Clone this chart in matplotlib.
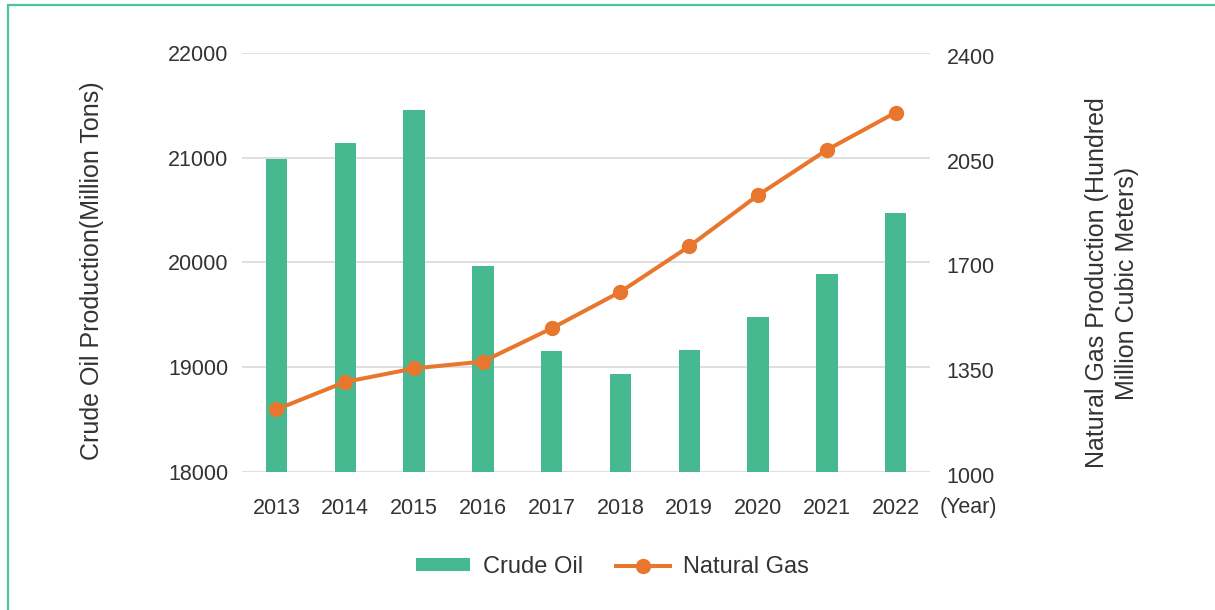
import matplotlib
matplotlib.use("Agg")
import matplotlib.pyplot as plt
import numpy as np
from matplotlib.patches import Rectangle
from matplotlib.transforms import ScaledTranslation

plt.rcParams["font.family"] = ["Liberation Sans", "DejaVu Sans"]

years = ["2013", "2014", "2015", "2016", "2017",
         "2018", "2019", "2020", "2021", "2022"]
crude_oil = [20992, 21143, 21456, 19969, 19151,
             18932, 19161, 19477, 19888, 20472]
natural_gas = [1209, 1301, 1346, 1369, 1480,
               1602, 1754, 1925, 2076, 2201]

left_ticks = [18000, 19000, 20000, 21000, 22000]
right_ticks = [1000, 1350, 1700, 2050, 2400]

BAR = "#47b990"
LINE = "#e8762d"
TEXT = "#333333"
GRID = "#dcdcdc"

fig = plt.figure(figsize=(12.15, 6.1), dpi=100)
ax = fig.add_axes([0.1992, 0.2262, 0.5663, 0.687])
ax2 = ax.twinx()

x = np.arange(len(years))

ax.bar(x, crude_oil, 0.31, color=BAR, zorder=2, label="Crude Oil")
ax.set_ylim(18000, 22000)
ax.set_yticks(left_ticks)
ax.set_xlim(-0.5, len(years) - 0.5)
ax.set_xticks(x)
ax.set_xticklabels(years)
ax.grid(axis="y", color=GRID, linewidth=1.3, zorder=0)
ax.set_axisbelow(True)

ax2.plot(x, natural_gas, color=LINE, linewidth=2.9, marker="o",
         markersize=10, zorder=3, label="Natural Gas")
ax2.set_ylim(1000, 2400)
ax2.set_yticks(right_ticks)

for a in (ax, ax2):
    for side in a.spines.values():
        side.set_visible(False)

ax.tick_params(axis="y", length=0, pad=10, labelsize=15.5, labelcolor=TEXT)
ax.tick_params(axis="x", length=0, pad=19, labelsize=15.5, labelcolor=TEXT)
ax2.tick_params(axis="y", length=0, pad=12, labelsize=15.5, labelcolor=TEXT)

# right-hand tick labels sit a little below their gridlines
shift = ScaledTranslation(0, -3 / 100, fig.dpi_scale_trans)
for lab in ax2.get_yticklabels():
    lab.set_transform(lab.get_transform() + shift)

fig.text(968 / 1215, 1 - 508 / 610, "(Year)", ha="center", va="center",
         fontsize=15.5, color=TEXT)

fig.text(92 / 1215, 1 - 271 / 610, "Crude Oil Production(Million Tons)",
         rotation=90, ha="center", va="center", fontsize=18, color=TEXT)
fig.text(1112 / 1215, 1 - 283 / 610,
         "Natural Gas Production (Hundred\nMillion Cubic Meters)",
         rotation=90, ha="center", va="center", fontsize=18, color=TEXT,
         multialignment="center", linespacing=1.3)

h1, l1 = ax.get_legend_handles_labels()
h2, l2 = ax2.get_legend_handles_labels()
leg = fig.legend(h1 + h2, l1 + l2, loc="center",
                 bbox_to_anchor=(0.504, 1 - 567 / 610), ncol=2,
                 frameon=False, fontsize=17, handlelength=2.3,
                 handleheight=0.45, handletextpad=0.55, columnspacing=1.4)
for t in leg.get_texts():
    t.set_color(TEXT)

fig.add_artist(Rectangle((8 / 1215, -0.1), 1.2, 1.1 - 5 / 610,
                         transform=fig.transFigure, fill=False,
                         edgecolor="#4fc49a", linewidth=1.6))

fig.savefig("out.png", dpi=100)
